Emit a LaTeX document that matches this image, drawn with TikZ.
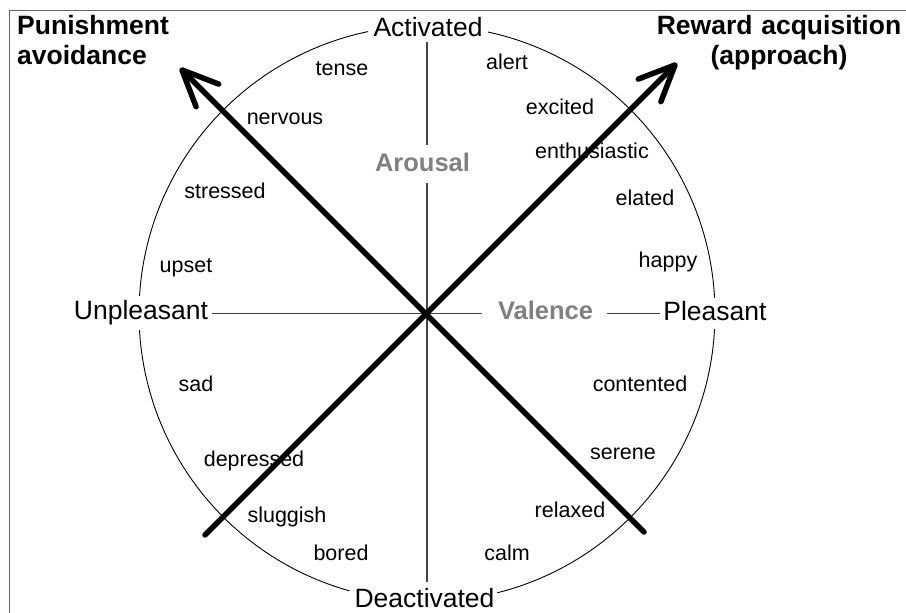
\documentclass[tikz,border=0pt]{standalone}
\usepackage{fontspec}
\setmainfont{Liberation Sans}
\usetikzlibrary{arrows.meta}
\definecolor{axisgray}{HTML}{444444}
\definecolor{labelgray}{HTML}{808080}
\definecolor{framegray}{HTML}{666666}
\tikzset{
  word/.style={anchor=base, inner sep=0pt, font=\fontsize{21.5}{24}\selectfont},
  pole/.style={anchor=base, inner sep=0pt, font=\fontsize{26.5}{30}\selectfont},
  dimlabel/.style={anchor=base, inner sep=0pt, text=labelgray, font=\fontsize{25.5}{30}\selectfont\bfseries},
  goal/.style={inner sep=0pt, font=\fontsize{26.5}{30}\selectfont\bfseries},
  ring/.style={line width=0.9pt, black},
  axisline/.style={line width=1.3pt, axisgray},
  bigarrow/.style={line width=5.5pt, line cap=round, line join=round,
    -{Straight Barb[length=36pt,width=32pt,round]}},
}
\begin{document}
\begin{tikzpicture}[x=1pt,y=1pt]
\useasboundingbox (0,0) rectangle (906,613);
% frame
\coordinate (fb) at (9.5,0);
\coordinate (fc) at (9.5,602);
\coordinate (fr) at (906,602);
\draw[framegray, line width=1pt] (fb) -- (fc) -- (fr);

\coordinate (C) at (427,299.5);

% circle arcs
\draw[ring] (C) ++(101.8:288) arc[start angle=101.8, end angle=176.5, radius=288];
\draw[ring] (C) ++(183.3:288) arc[start angle=183.3, end angle=254.4, radius=288];
\draw[ring] (C) ++(284.1:288) arc[start angle=284.1, end angle=356.9, radius=288];
\draw[ring] (C) ++(3.1:288) arc[start angle=3.1, end angle=77.8, radius=288];

% pole labels
\node[pole] (act) at (428,576) {Activated};
\node[pole] (deact) at (424.5,5) {Deactivated};
\node[pole] (unp) at (141,293) {Unpleasant};
\node[pole] (ple) at (715,292) {Pleasant};
\node[dimlabel] (aro) at (422.5,441) {Arousal};
\node[dimlabel] (val) at (545.5,293) {Valence};

% goal labels
\node[goal, text width=200pt, align=left, anchor=base west] (pun) at (17,578) {Punishment\\avoidance};
\node[goal, text width=260pt, align=center, anchor=base] (rew) at (779,578) {Reward acquisition\\(approach)};

% axes
\coordinate (v1) at (427,571);
\coordinate (v2) at (427,468);
\coordinate (v3) at (427,430);
\coordinate (v4) at (427,31);
\coordinate (h1) at (212,299.5);
\coordinate (h2) at (482,299.5);
\coordinate (h3) at (607,299.5);
\coordinate (h4) at (660,299.5);
\draw[axisline] (v1) -- (v2);
\draw[axisline] (v3) -- (v4);
\draw[axisline] (h1) -- (h2);
\draw[axisline] (h3) -- (h4);

% emotion words
\node[word] (tense) at (342,537) {tense};
\node[word] (nervous) at (285,488) {nervous};
\node[word] (stressed) at (225,414) {stressed};
\node[word] (upset) at (186,340) {upset};
\node[word] (alert) at (507,543) {alert};
\node[word] (excited) at (560,498) {excited};
\node[word] (enth) at (592,454) {enthusiastic};
\node[word] (elated) at (645,407) {elated};
\node[word] (happy) at (668,345) {happy};
\node[word] (sad) at (196,221) {sad};
\node[word] (depressed) at (254,146) {depressed};
\node[word] (sluggish) at (287,90) {sluggish};
\node[word] (bored) at (341,52) {bored};
\node[word] (contented) at (640,221) {contented};
\node[word] (serene) at (623,153) {serene};
\node[word] (relaxed) at (570,95) {relaxed};
\node[word] (calm) at (507,52) {calm};

% thick arrows
\coordinate (a1s) at (205,78);
\coordinate (a1e) at (677,550);
\coordinate (a2s) at (644,81);
\coordinate (a2e) at (180,545);
\draw[bigarrow] (a1s) -- (a1e);
\draw[bigarrow] (a2s) -- (a2e);
\end{tikzpicture}
\end{document}
